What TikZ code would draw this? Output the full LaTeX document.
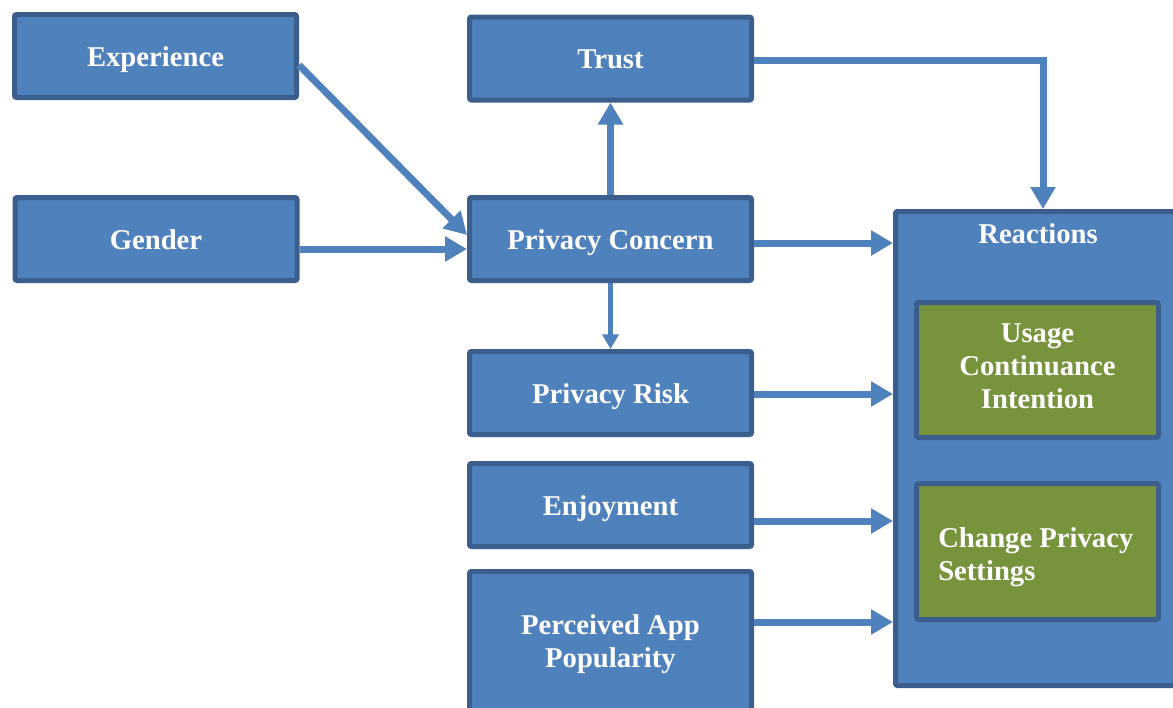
\documentclass[tikz,border=0pt]{standalone}
\usepackage{fontspec}
\setmainfont{Liberation Serif}
\usetikzlibrary{arrows.meta,shadows}
\definecolor{boxblue}{HTML}{4F81BD}
\definecolor{boxedge}{HTML}{3B5E8C}
\definecolor{boxgreen}{HTML}{77933C}
\tikzset{
  factor/.style={rectangle, draw=boxedge, fill=boxblue, line width=3.75pt,
    rounded corners=1.5pt, text=white, align=center, inner sep=0pt,
    text height=15pt, text depth=0pt,
    font=\fontsize{21.5}{24.75}\selectfont\bfseries,
    drop shadow={opacity=0.25, shadow xshift=1.5pt, shadow yshift=-1.5pt}},
  outcome/.style={factor, fill=boxgreen, drop shadow={opacity=0}},
  label text/.style={text=white, inner sep=0pt,
    font=\fontsize{21.5}{24.75}\selectfont\bfseries},
  link/.style={draw=boxblue, line width=5.25pt,
    -{Triangle[length=16.5pt, width=18pt]}},
  thin link/.style={draw=boxblue, line width=3.5pt,
    -{Triangle[length=11pt, width=12pt]}}
}
\begin{document}
\begin{tikzpicture}[x=0.75pt, y=-0.75pt]
  \clip (0,0) rectangle (1173,707);
  \fill[white] (0,0) rectangle (1173,707);

  % Left column
  \node[factor, minimum width=211.5pt, minimum height=62.25pt] (exp) at (155.5,56) {Experience};
  \node[factor, minimum width=211.5pt, minimum height=62.25pt] (gender) at (156,239) {Gender};

  % Middle column
  \node[factor, minimum width=211.5pt, minimum height=62.25pt] (trust) at (610.5,58.5) {Trust};
  \node[factor, minimum width=211.5pt, minimum height=62.25pt] (concern) at (610.5,239) {Privacy Concern};
  \node[factor, minimum width=211.5pt, minimum height=62.25pt] (risk) at (610.5,393) {Privacy Risk};
  \node[factor, minimum width=211.5pt, minimum height=62.25pt] (enjoy) at (610.5,505) {Enjoyment};
  \node[factor, minimum width=211.5pt, minimum height=104.25pt] (popular) at (610.5,641) {};
  \node[label text, align=center] (populartxt) at (610.5,644) {Perceived App\\Popularity};

  % Reactions block
  \node[factor, minimum width=221.25pt, minimum height=355.5pt] (reactions) at (1043,448.5) {};
  \node[label text] (reacttitle) at (1038,234) {Reactions};
  \node[outcome, minimum width=181.5pt, minimum height=101.25pt] (usage) at (1037.5,370) {};
  \node[label text, align=center] (usagetxt) at (1037.5,366) {Usage\\Continuance\\Intention};
  \node[outcome, minimum width=181.5pt, minimum height=102pt] (change) at (1037.5,551.5) {};
  \node[label text, align=left, anchor=west] (changetxt) at (938,557.5) {Change Privacy\\Settings};

  % Connectors
  \draw[link] ([yshift=-6.75pt]exp.east) -- ([yshift=3pt]concern.west);
  \draw[link] ([yshift=-7.5pt]gender.east) -- ([yshift=-7.5pt]concern.west);
  \draw[link] (concern.north) -- (trust.south);
  \draw[thin link] (concern.south) -- (risk.north);
  \draw[link] ([yshift=-1.5pt]trust.east) -| (reactions.north);
  \draw[link] ([yshift=-3pt]concern.east) -- ([yshift=-3pt]concern.east -| reactions.west);
  \draw[link] ([yshift=-0.75pt]risk.east) -- ([yshift=-0.75pt]risk.east -| reactions.west);
  \draw[link] ([yshift=-12pt]enjoy.east) -- ([yshift=-12pt]enjoy.east -| reactions.west);
  \draw[link] ([yshift=14.25pt]popular.east) -- ([yshift=14.25pt]popular.east -| reactions.west);
\end{tikzpicture}
\end{document}
